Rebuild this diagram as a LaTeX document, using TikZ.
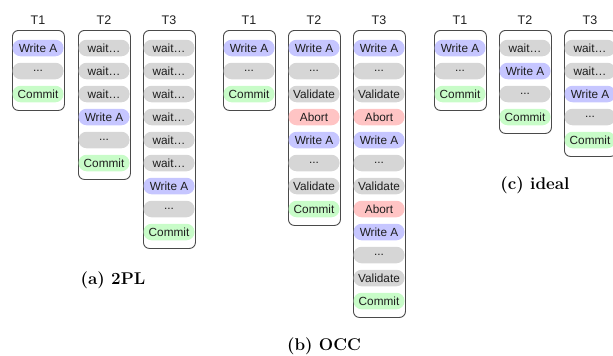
\documentclass[tikz,border=0pt]{standalone}
\usepackage{fontspec}
\newfontfamily\pillfont{Liberation Sans}
\definecolor{wrc}{HTML}{C6C6FF}
\definecolor{grc}{HTML}{D6D6D6}
\definecolor{cmc}{HTML}{C8FCC8}
\definecolor{abc}{HTML}{FFC4C4}
\definecolor{boxc}{HTML}{4A4A4A}
\definecolor{txc}{HTML}{1E1E1E}
\newcommand\tdots{...}
\newcommand\txcolumn[5]{%
  \node[tlabel] (#1l) at (#2+26,20) {#3};
  \node[txbox, minimum height={34+23*(#4-1)}] (#1) at (#2,30) {};
  \foreach \s/\t [count=\i] in {#5} {
    \node[pill, fill=\s] (#1p\i) at (#2+26,{48+23*(\i-1)}) {\t};
  }%
}
\begin{document}
\begin{tikzpicture}[x=1pt,y=-1pt,
  txbox/.style={draw=boxc, line width=0.9pt, rounded corners=6pt, minimum width=52pt, inner sep=0pt, anchor=north west},
  pill/.style={rounded corners=8pt, minimum width=51pt, minimum height=16.5pt, inner sep=0pt, font=\pillfont\fontsize{11.8}{12}\selectfont, text=txc},
  tlabel/.style={font=\pillfont\fontsize{12.5}{13}\selectfont, text=txc},
  capstyle/.style={font=\bfseries\fontsize{17}{20}\selectfont}]
\useasboundingbox (0,0) rectangle (613,356);
\clip (0,0) rectangle (613,356);
% (a) 2PL
\txcolumn{a1}{12}{T1}{3}{wrc/Write A, grc/\tdots, cmc/Commit}
\txcolumn{a2}{78}{T2}{6}{grc/wait…, grc/wait…, grc/wait…, wrc/Write A, grc/\tdots, cmc/Commit}
\txcolumn{a3}{143}{T3}{9}{grc/wait…, grc/wait…, grc/wait…, grc/wait…, grc/wait…, grc/wait…, wrc/Write A, grc/\tdots, cmc/Commit}
% (b) OCC
\txcolumn{b1}{223}{T1}{3}{wrc/Write A, grc/\tdots, cmc/Commit}
\txcolumn{b2}{288}{T2}{8}{wrc/Write A, grc/\tdots, grc/Validate, abc/Abort, wrc/Write A, grc/\tdots, grc/Validate, cmc/Commit}
\txcolumn{b3}{353}{T3}{12}{wrc/Write A, grc/\tdots, grc/Validate, abc/Abort, wrc/Write A, grc/\tdots, grc/Validate, abc/Abort, wrc/Write A, grc/\tdots, grc/Validate, cmc/Commit}
% (c) ideal
\txcolumn{c1}{434}{T1}{3}{wrc/Write A, grc/\tdots, cmc/Commit}
\txcolumn{c2}{499}{T2}{4}{grc/wait…, wrc/Write A, grc/\tdots, cmc/Commit}
\txcolumn{c3}{564}{T3}{5}{grc/wait…, grc/wait…, wrc/Write A, grc/\tdots, cmc/Commit}
% captions
\node[capstyle] (capa) at (113,280) {(a) 2PL};
\node[capstyle] (capb) at (324,346) {(b) OCC};
\node[capstyle] (capc) at (535,185) {(c) ideal};
\end{tikzpicture}
\end{document}
